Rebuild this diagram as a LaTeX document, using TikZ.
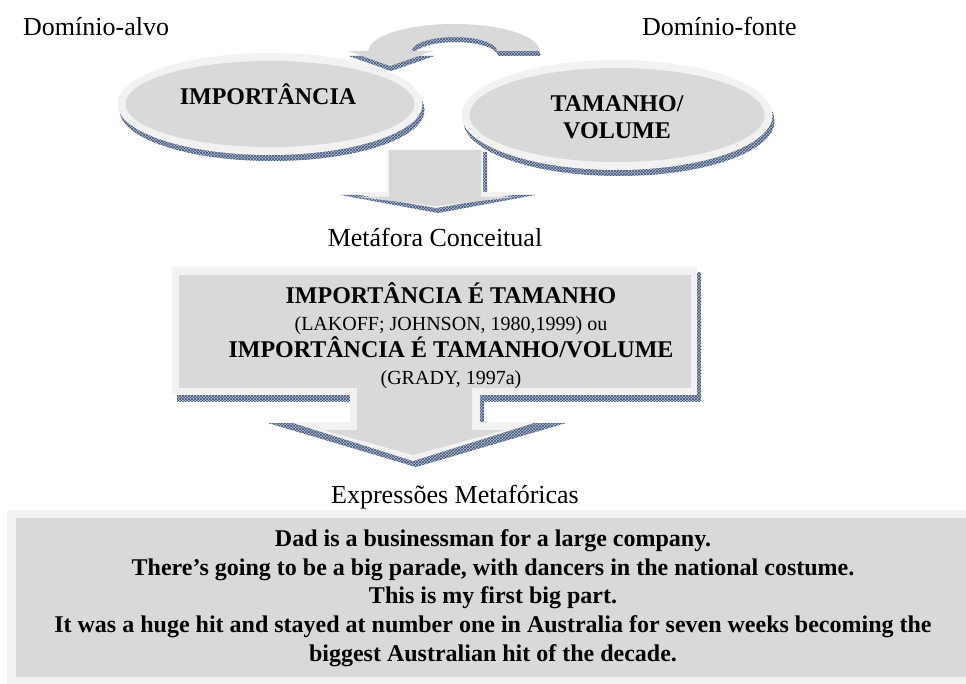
\documentclass[tikz,border=0pt]{standalone}
\usepackage{fontspec}
\setmainfont{Liberation Serif}
\usetikzlibrary{patterns}
\definecolor{facegray}{HTML}{D9D9D9}
\definecolor{rimgray}{HTML}{F2F2F2}
\definecolor{shadowbase}{HTML}{B4BFD0}
\definecolor{shadowink}{HTML}{3F5277}
\newcommand\citefont{\fontsize{20}{27}\selectfont\mdseries}
\tikzset{
  face/.style={fill=facegray},
  rim/.style={fill=rimgray},
  cast/.style={preaction={fill=shadowbase}, pattern=crosshatch, pattern color=shadowink},
  caption/.style={font=\fontsize{26}{30}\selectfont, inner sep=0pt},
  title/.style={font=\fontsize{24}{27}\selectfont\bfseries, align=center, inner sep=0pt},
}
\begin{document}
\begin{tikzpicture}[x=1pt, y=-1pt]
\useasboundingbox (0,0) rectangle (966,684);
\fill[white] (0,0) rectangle (966,684);

% --- two domain ellipses ---
\path[cast] (272,110) ellipse [x radius=152.5pt, y radius=51pt];
\path[cast] (619,121) ellipse [x radius=155.5pt, y radius=55pt];
\path[rim]  (270,104) ellipse [x radius=152.5pt, y radius=51pt];
\path[face] (270,104) ellipse [x radius=144.5pt, y radius=43pt];
\path[rim]  (617,115) ellipse [x radius=155.5pt, y radius=55pt];
\path[face] (617,115) ellipse [x radius=147.5pt, y radius=47pt];

% --- curved arrow from source to target ---
\begin{scope}[shift={(1,5)}]
\path[cast] plot[domain=0:180, samples=60] ({454+85.5*cos(\x)}, {51-27*sin(\x)})
  -- (348,51) -- (390,66) -- (433,51)
  -- plot[domain=180:0, samples=60] ({454.5+42.5*cos(\x)}, {51-14*sin(\x)}) -- cycle;
\end{scope}
\path[face] plot[domain=0:180, samples=60] ({454+85.5*cos(\x)}, {51-27*sin(\x)})
  -- (348,51) -- (390,66) -- (433,51)
  -- plot[domain=180:0, samples=60] ({454.5+42.5*cos(\x)}, {51-14*sin(\x)}) -- cycle;

% --- first block arrow ---
\path[cast] (390,152) -- (487,152) -- (487,195) -- (535,195) -- (438,213) -- (341,195) -- (390,195) -- cycle;
\path[rim]  (387,150) -- (483,150) -- (483,192) -- (530,192) -- (436,208) -- (342,192) -- (387,192) -- cycle;
\path[face] (389,150) -- (481,150) -- (481,197) -- (515,197) -- (436,206) -- (357,197) -- (389,197) -- cycle;

% --- conceptual metaphor box and second block arrow ---
\path[cast] (177,273) rectangle (701,401);
\path[cast] (354,395) -- (484,395) -- (484,423) -- (566,423) -- (416,467) -- (268,423) -- (354,423) -- cycle;
\path[rim]  (172,267) rectangle (697,395);
\path[face] (179,275) rectangle (691,388);
\path[rim]  (350,388) -- (480,388) -- (480,422) -- (537,422) -- (413,461) -- (290,422) -- (350,422) -- cycle;
\path[face] (357,388) -- (472,388) -- (472,430) -- (505,430) -- (413,455) -- (323,430) -- (357,430) -- cycle;

% --- metaphorical expressions box ---
\path[rim]  (7,510) rectangle (990,690);
\path[face] (16,518) rectangle (990,677);

% --- texts ---
\node[caption, anchor=base west] (alvo) at (23,36) {Domínio-alvo};
\node[caption, anchor=base west] (fonte) at (642,36) {Domínio-fonte};
\node[title, anchor=base] (imp) at (268,105) {IMPORTÂNCIA};
\node[title] (tam) at (617,117) {TAMANHO/\\VOLUME};
\node[caption, anchor=base] (conc) at (435,247) {Metáfora Conceitual};
\node[title] (metaf) at (451,336) {IMPORTÂNCIA É TAMANHO\\
  {\citefont (LAKOFF; JOHNSON, 1980,1999) ou}\\
  IMPORTÂNCIA É TAMANHO/VOLUME\\
  {\citefont (GRADY, 1997a)}};
\node[caption, anchor=base] (expr) at (455,503) {Expressões Metafóricas};
\node[title, font=\fontsize{24}{28.7}\selectfont\bfseries] (exs) at (493,598) {Dad is a businessman for a large company.\\
  There’s going to be a big parade, with dancers in the national costume.\\
  This is my first big part.\\
  It was a huge hit and stayed at number one in Australia for seven weeks becoming the\\
  biggest Australian hit of the decade.};
\end{tikzpicture}
\end{document}
